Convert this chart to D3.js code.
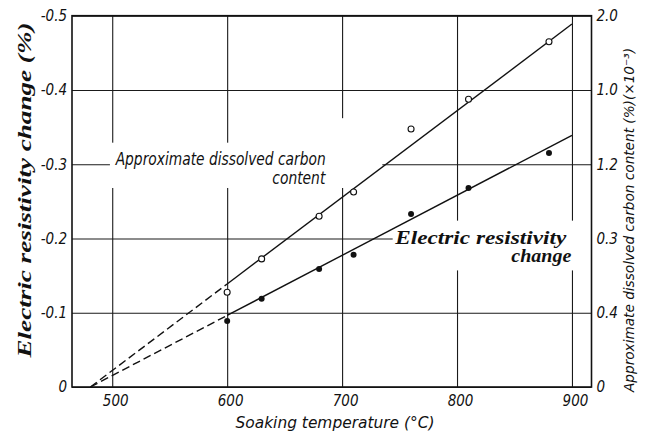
<!DOCTYPE html>
<html><head><meta charset="utf-8">
<script src="https://cdn.jsdelivr.net/npm/d3@7"></script>
<style>
body{margin:0;background:#fff;}
svg{display:block;background:#fff;}
</style></head><body>
<svg id="c" width="653" height="437"></svg>
<script>
// ---- data ----
const xTicks = [500, 600, 700, 800, 900];
const yLeftTicks = [0, -0.1, -0.2, -0.3, -0.4, -0.5];
const yLeftLabels = ["0", "-0.1", "-0.2", "-0.3", "-0.4", "-0.5"];
const yRightTicks = [0, 0.4, 0.8, 1.2, 1.6, 2.0];
const yRightLabels = ["0", "0.4", "0.3", "1.2", "1.0", "2.0"];
const temps = [600, 630, 680, 710, 760, 810, 880];
const resistivity = [-0.089, -0.119, -0.159, -0.178, -0.233, -0.268, -0.315];
const carbon = [0.51, 0.69, 0.92, 1.05, 1.39, 1.55, 1.86];
const fitTemps = [481, 600, 900];
const resistivityFit = [0, -0.0964, -0.339];
const carbonFit = [0, 0.555, 1.955];

// ---- layout ----
const svg = d3.select("#c");
const L = 72, R = 591.5, T = 15.7, B = 387;
const x = d3.scaleLinear().domain([465, 917]).range([L, R]);
const y = d3.scaleLinear().domain([0, -0.5]).range([B, T]);
const yR = d3.scaleLinear().domain([0, 2.0]).range([B, T]);

const sansIt = "'DejaVu Sans Condensed','Liberation Sans Narrow','DejaVu Sans',sans-serif";
const serif = "'Liberation Serif','Times New Roman',serif";

// gridlines
const gx = svg.append("g").attr("transform", `translate(0,${B})`)
  .call(d3.axisBottom(x).tickValues(xTicks).tickSize(-(B - T)).tickFormat(""));
const gy = svg.append("g").attr("transform", `translate(${L},0)`)
  .call(d3.axisLeft(y).tickValues(yLeftTicks).tickSize(-(R - L)).tickFormat(""));
[gx, gy].forEach(g => {
  g.select(".domain").remove();
  g.selectAll("line").attr("stroke", "#1a1a1a").attr("stroke-width", 1.1);
});

// white gaps behind annotation text (gridlines interrupted in the original)
const blanks = [
  [498, 735, -0.329, -0.268],
  [695, 705, -0.362, -0.268],
  [744, 917, -0.224, -0.157]
];
svg.append("g").selectAll("rect").data(blanks).join("rect")
  .attr("x", d => x(d[0])).attr("width", d => x(d[1]) - x(d[0]))
  .attr("y", d => y(d[2])).attr("height", d => y(d[3]) - y(d[2]))
  .attr("fill", "#fff");

// frame
svg.append("rect").attr("x", L).attr("y", T).attr("width", R - L).attr("height", B - T)
  .attr("fill", "none").attr("stroke", "#111").attr("stroke-width", 1.6);

// axis labels
function styleTicks(g) {
  g.select(".domain").remove();
  g.selectAll("text").attr("font-family", sansIt).attr("font-style", "italic")
    .attr("font-size", 15).attr("fill", "#111");
}
svg.append("g").attr("transform", `translate(0,${B})`)
  .call(d3.axisBottom(x).tickValues(xTicks).tickSize(0).tickPadding(8).tickFormat(d3.format("d")))
  .call(styleTicks).call(g => g.selectAll("text").attr("dx", 3));
svg.append("g").attr("transform", `translate(${L},0)`)
  .call(d3.axisLeft(y).tickValues(yLeftTicks).tickSize(0).tickPadding(5)
    .tickFormat((d, i) => yLeftLabels[i]))
  .call(styleTicks);
svg.append("g").attr("transform", `translate(${R},0)`)
  .call(d3.axisRight(yR).tickValues(yRightTicks).tickSize(0).tickPadding(5)
    .tickFormat((d, i) => yRightLabels[i]))
  .call(styleTicks);

// fitted lines
const resLine = d3.line().x(d => x(d[0])).y(d => y(d[1]));
const carbLine = d3.line().x(d => x(d[0])).y(d => yR(d[1]));
const resPts = fitTemps.map((t, i) => [t, resistivityFit[i]]);
const carbPts = fitTemps.map((t, i) => [t, carbonFit[i]]);
[[resLine, resPts], [carbLine, carbPts]].forEach(([ln, pts]) => {
  svg.append("path").attr("d", ln(pts.slice(0, 2))).attr("fill", "none")
    .attr("stroke", "#111").attr("stroke-width", 1.4).attr("stroke-dasharray", "8,4");
  svg.append("path").attr("d", ln(pts.slice(1))).attr("fill", "none")
    .attr("stroke", "#111").attr("stroke-width", 1.4);
});

// points
svg.append("g").selectAll("circle").data(temps).join("circle")
  .attr("cx", d => x(d)).attr("cy", (d, i) => yR(carbon[i])).attr("r", 3)
  .attr("fill", "#fff").attr("stroke", "#111").attr("stroke-width", 1.1);
svg.append("g").selectAll("circle").data(temps).join("circle")
  .attr("cx", d => x(d)).attr("cy", (d, i) => y(resistivity[i])).attr("r", 3)
  .attr("fill", "#111");

// annotations
function txt(str, px, py, opts) {
  const t = svg.append("text").attr("x", px).attr("y", py).text(str)
    .attr("fill", "#111").attr("font-family", opts.family).attr("font-size", opts.size)
    .attr("font-style", "italic").attr("font-weight", opts.weight || "normal")
    .attr("text-anchor", opts.anchor || "start");
  if (opts.len) t.attr("textLength", opts.len).attr("lengthAdjust", "spacingAndGlyphs");
  if (opts.rot) t.attr("transform", `rotate(-90,${px},${py})`);
  return t;
}
txt("Approximate dissolved carbon", x(503), y(-0.2983), {family: sansIt, size: 17, len: 210});
txt("content", x(685.4), y(-0.2734), {family: sansIt, size: 17, len: 53, anchor: "end"});
txt("Electric  resistivity", x(746.3), y(-0.1919), {family: serif, size: 18, weight: "bold", len: 171});
txt("change", x(899.4), y(-0.1677), {family: serif, size: 18, weight: "bold", len: 60, anchor: "end"});

// axis titles
txt("Soaking  temperature (°C)", 335, 428, {family: sansIt, size: 16, len: 199, anchor: "middle"});
txt("Electric  resistivity  change  (%)", 31, 190, {family: serif, size: 19, weight: "bold", len: 335, anchor: "middle", rot: true});
txt("Approximate dissolved  carbon  content (%)(×10⁻³)", 634, 220, {family: sansIt, size: 14, len: 344, anchor: "middle", rot: true});
</script>
</body></html>
